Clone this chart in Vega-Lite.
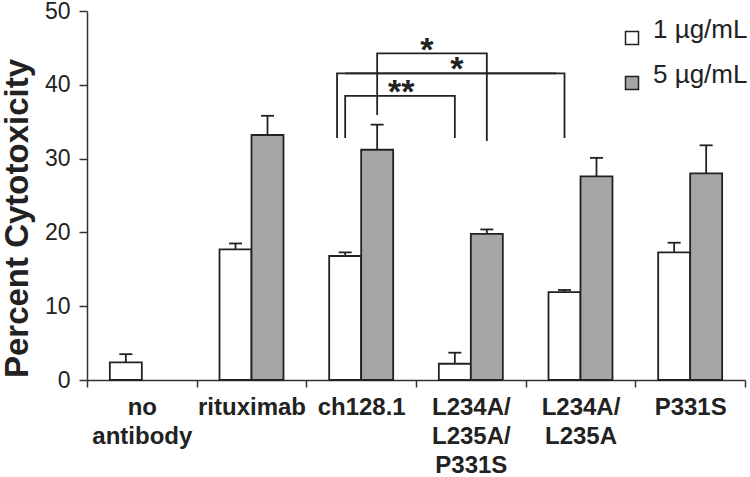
{
  "$schema": "https://vega.github.io/schema/vega-lite/v6.json",
  "width": 658,
  "height": 369,
  "autosize": {"type": "none"},
  "padding": {"left": 87, "top": 11, "right": 5, "bottom": 97},
  "background": "white",
  "config": {
    "font": "Liberation Sans",
    "view": {"stroke": null},
    "axis": {"grid": false, "domainColor": "#333", "tickColor": "#333", "domainWidth": 1.5, "tickWidth": 1.5, "labelColor": "#222", "titleColor": "#222"}
  },
  "datasets": {
    "bars": [
      {"antibody": "no antibody", "dose": "1 µg/mL", "mean": 2.4, "upper": 3.5},
      {"antibody": "rituximab", "dose": "1 µg/mL", "mean": 17.7, "upper": 18.5},
      {"antibody": "rituximab", "dose": "5 µg/mL", "mean": 33.2, "upper": 35.8},
      {"antibody": "ch128.1", "dose": "1 µg/mL", "mean": 16.8, "upper": 17.3},
      {"antibody": "ch128.1", "dose": "5 µg/mL", "mean": 31.2, "upper": 34.6},
      {"antibody": "L234A/L235A/P331S", "dose": "1 µg/mL", "mean": 2.2, "upper": 3.7},
      {"antibody": "L234A/L235A/P331S", "dose": "5 µg/mL", "mean": 19.8, "upper": 20.4},
      {"antibody": "L234A/L235A", "dose": "1 µg/mL", "mean": 11.9, "upper": 12.2},
      {"antibody": "L234A/L235A", "dose": "5 µg/mL", "mean": 27.6, "upper": 30.1},
      {"antibody": "P331S", "dose": "1 µg/mL", "mean": 17.3, "upper": 18.6},
      {"antibody": "P331S", "dose": "5 µg/mL", "mean": 28.0, "upper": 31.8}
    ],
    "brackets": [
      {"b": 1, "o": 1, "antibody": "ch128.1", "dose": "5 µg/mL", "y": 35.9},
      {"b": 1, "o": 2, "antibody": "ch128.1", "dose": "5 µg/mL", "y": 44.27},
      {"b": 1, "o": 3, "antibody": "L234A/L235A/P331S", "dose": "5 µg/mL", "y": 44.27},
      {"b": 1, "o": 4, "antibody": "L234A/L235A/P331S", "dose": "5 µg/mL", "y": 32.4},
      {"b": 2, "o": 2, "antibody": "ch128.1", "dose": "1 µg/mL", "y": 41.56},
      {"b": 2, "o": 3, "antibody": "L234A/L235A", "dose": "1 µg/mL", "y": 41.56},
      {"b": 2, "o": 4, "antibody": "L234A/L235A", "dose": "1 µg/mL", "y": 32.8},
      {"b": 3, "o": 1, "antibody": "ch128.1", "dose": "1 µg/mL", "y": 32.8},
      {"b": 3, "o": 2, "antibody": "ch128.1", "dose": "1 µg/mL", "y": 38.5},
      {"b": 3, "o": 3, "antibody": "L234A/L235A/P331S", "dose": "1 µg/mL", "y": 38.5},
      {"b": 3, "o": 4, "antibody": "L234A/L235A/P331S", "dose": "1 µg/mL", "y": 32.8}
    ],
    "bracket2left": [
      {"b": 2, "o": 1, "antibody": "ch128.1", "y": 32.8},
      {"b": 2, "o": 2, "antibody": "ch128.1", "y": 41.56},
      {"b": 2, "o": 3, "antibody": "L234A/L235A", "y": 41.56}
    ]
  },
  "encoding": {
    "x": {
      "field": "antibody", "type": "nominal",
      "sort": ["no antibody", "rituximab", "ch128.1", "L234A/L235A/P331S", "L234A/L235A", "P331S"],
      "scale": {"paddingInner": 0, "paddingOuter": 0},
      "axis": {
        "title": null, "tickBand": "extent", "tickSize": 7, "labelPadding": 8,
        "labelFontSize": 24, "labelFontWeight": "bold", "labelAngle": 0, "labelBaseline": "top",
        "labelLineHeight": 29, "labelOverlap": false, "labelLimit": 0,
        "labelExpr": "datum.value == 'no antibody' ? ['no','antibody'] : datum.value == 'L234A/L235A/P331S' ? ['L234A/','L235A/','P331S'] : datum.value == 'L234A/L235A' ? ['L234A/','L235A'] : datum.label"
      }
    }
  },
  "layer": [
    {
      "data": {"name": "bars"},
      "mark": {"type": "bar", "stroke": "#222", "strokeWidth": 1.8},
      "encoding": {
        "xOffset": {"field": "dose", "type": "nominal", "sort": ["1 µg/mL", "5 µg/mL"], "scale": {"domain": ["1 µg/mL", "5 µg/mL"], "paddingInner": 0, "paddingOuter": 0.714}},
        "y": {
          "field": "mean", "type": "quantitative", "title": "Percent Cytotoxicity",
          "scale": {"domain": [0, 50], "nice": false},
          "axis": {
            "values": [0, 10, 20, 30, 40, 50], "tickSize": 8, "labelPadding": 9, "labelFontSize": 23,
            "titleFontSize": 33, "titleFontWeight": "bold", "titleX": -60, "titleY": 207,
            "titleBaseline": "alphabetic", "titleAlign": "center"
          }
        },
        "fill": {
          "field": "dose", "type": "nominal",
          "scale": {"domain": ["1 µg/mL", "5 µg/mL"], "range": ["#ffffff", "#a6a6a6"]},
          "legend": {
            "title": null, "orient": "none", "legendX": 532, "legendY": 14,
            "symbolType": "square", "symbolSize": 169, "symbolStrokeColor": "#222", "symbolStrokeWidth": 1.5,
            "labelFontSize": 26, "labelBaseline": "alphabetic", "labelOffset": 8, "rowPadding": 14, "labelColor": "#222"
          }
        }
      }
    },
    {
      "data": {"name": "bars"},
      "mark": {"type": "rule", "stroke": "#222", "strokeWidth": 1.8},
      "encoding": {
        "xOffset": {"field": "dose", "type": "nominal", "sort": ["1 µg/mL", "5 µg/mL"]},
        "y": {"field": "mean", "type": "quantitative", "title": "Percent Cytotoxicity"},
        "y2": {"field": "upper"}
      }
    },
    {
      "data": {"name": "bars"},
      "mark": {"type": "tick", "orient": "horizontal", "size": 13, "thickness": 1.8, "color": "#222", "opacity": 1},
      "encoding": {
        "xOffset": {"field": "dose", "type": "nominal", "sort": ["1 µg/mL", "5 µg/mL"]},
        "y": {"field": "upper", "type": "quantitative", "title": "Percent Cytotoxicity"}
      }
    },
    {
      "data": {"name": "brackets"},
      "mark": {"type": "line", "stroke": "#222", "strokeWidth": 1.8},
      "encoding": {
        "xOffset": {"field": "dose", "type": "nominal", "sort": ["1 µg/mL", "5 µg/mL"]},
        "y": {"field": "y", "type": "quantitative", "title": "Percent Cytotoxicity"},
        "detail": {"field": "b", "type": "nominal"},
        "order": {"field": "o", "type": "quantitative"}
      }
    },
    {
      "data": {"name": "bracket2left"},
      "mark": {"type": "line", "stroke": "#222", "strokeWidth": 1.8},
      "encoding": {
        "x": {
          "field": "antibody", "type": "nominal", "bandPosition": 0.28,
          "sort": ["no antibody", "rituximab", "ch128.1", "L234A/L235A/P331S", "L234A/L235A", "P331S"]
        },
        "y": {"field": "y", "type": "quantitative", "title": "Percent Cytotoxicity"},
        "detail": {"field": "b", "type": "nominal"},
        "order": {"field": "o", "type": "quantitative"}
      }
    },
    {
      "data": {"values": [{"label": "*", "antibody": "L234A/L235A/P331S", "dose": "1 µg/mL", "y": 43.2}]},
      "mark": {"type": "text", "fontSize": 34, "fontWeight": "bold", "color": "#222", "baseline": "alphabetic", "dx": -28},
      "encoding": {
        "xOffset": {"field": "dose", "type": "nominal", "sort": ["1 µg/mL", "5 µg/mL"]},
        "y": {"field": "y", "type": "quantitative", "title": "Percent Cytotoxicity"},
        "text": {"field": "label"}
      }
    },
    {
      "data": {"values": [{"label": "*", "antibody": "L234A/L235A/P331S", "dose": "1 µg/mL", "y": 40.7}]},
      "mark": {"type": "text", "fontSize": 34, "fontWeight": "bold", "color": "#222", "baseline": "alphabetic", "dx": 2},
      "encoding": {
        "xOffset": {"field": "dose", "type": "nominal", "sort": ["1 µg/mL", "5 µg/mL"]},
        "y": {"field": "y", "type": "quantitative", "title": "Percent Cytotoxicity"},
        "text": {"field": "label"}
      }
    },
    {
      "data": {"values": [{"label": "**", "antibody": "ch128.1", "dose": "5 µg/mL", "y": 37.5}]},
      "mark": {"type": "text", "fontSize": 34, "fontWeight": "bold", "color": "#222", "baseline": "alphabetic", "dx": 24},
      "encoding": {
        "xOffset": {"field": "dose", "type": "nominal", "sort": ["1 µg/mL", "5 µg/mL"]},
        "y": {"field": "y", "type": "quantitative", "title": "Percent Cytotoxicity"},
        "text": {"field": "label"}
      }
    }
  ]
}
